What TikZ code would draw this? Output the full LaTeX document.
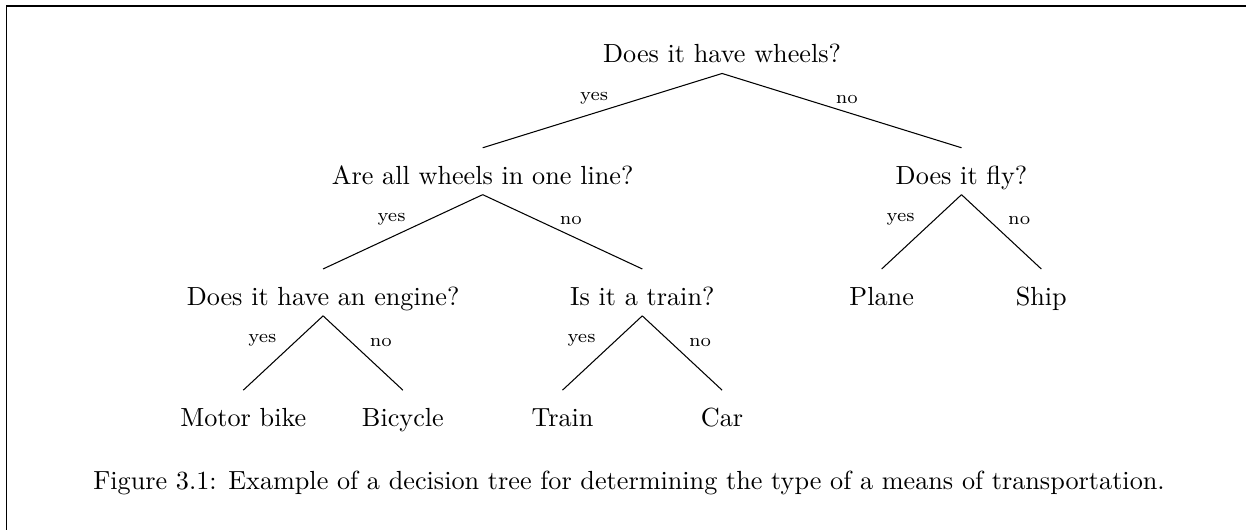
\documentclass[tikz,border=0pt]{standalone}
\usepackage{amsmath}
\usepackage{tikz}

\begin{document}
\begin{tikzpicture}[x=0.3817pt, y=0.3817pt,
    lbl/.style={font=\scriptsize, inner sep=1.2pt, pos=.46},
    steep/.style={inner sep=2.4pt, pos=.5}]
        \matrix[column sep={30.46pt,between origins}, row sep={46.26pt,between origins},
          nodes={anchor=base, inner sep=0pt, text height=13.7pt, text depth=3.8pt}] at (0,0)
        {
          &&&&&& \node(W) {Does it have wheels?}; &&&&\\
          &&& \node(L) {Are all wheels in one line?}; &&&&&& \node(F) {Does it fly?}; &\\
          & \node(E) {Does it have an engine?}; &&&& \node(T) {Is it a train?};
          &&& \node(P) {Plane}; && \node(S) {Ship};\\
          \node(M) {Motor bike}; && \node(B) {Bicycle}; && \node(T1) {Train};
          && \node(C) {Car}; &&&&\\
        };
      \draw (W.south) -- (L.north) node[lbl, anchor=south east] {yes};
      \draw (W.south) -- (F.north) node[lbl, anchor=south west] {no};

      \draw (L.south) -- (E.north) node[lbl, anchor=south east] {yes};
      \draw (L.south) -- (T.north) node[lbl, anchor=south west] {no};
      \draw (F.south) -- (P.north) node[lbl, steep, anchor=south east] {yes};
      \draw (F.south) -- (S.north) node[lbl, steep, anchor=south west] {no};

      \draw (E.south) -- (M.north) node[lbl, steep, anchor=south east] {yes};
      \draw (E.south) -- (B.north) node[lbl, steep, anchor=south west] {no};
      \draw (T.south) -- (T1.north) node[lbl, steep, anchor=south east] {yes};
      \draw (T.south) -- (C.north) node[lbl, steep, anchor=south west] {no};

      \node[anchor=base] (cap) at ([shift={(-93.1,-427)}]W.base)
        {Figure 3.1: Example of a decision tree for determining the type of a means of transportation.};

      % frame of the page
      \coordinate (K) at ([shift={(-715.4,57)}]W.base);
      \draw (K) ++(0,-530) -- (K) -- ++(1246,0);

      \pgfresetboundingbox
      \useasboundingbox ([shift={(-722.1,63)}]W.base) rectangle ++(1246,-530);
      \end{tikzpicture}
\end{document}
